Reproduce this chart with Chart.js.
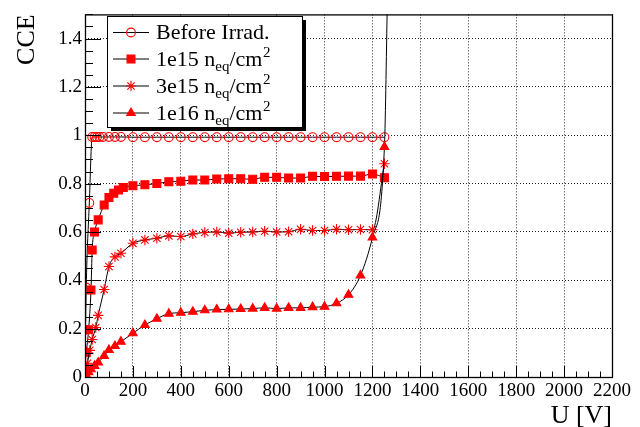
<!DOCTYPE html>
<html><head><meta charset="utf-8">
<script src="https://cdn.jsdelivr.net/npm/chart.js@4.4.1/dist/chart.umd.min.js"></script>
<style>html,body{margin:0;padding:0;background:#fff}#wrap{width:640px;height:427px}</style>
</head><body><div id="wrap"><canvas id="c" width="640" height="427"></canvas></div>
<script>
// ---- data ----
const beforeV   = [2, 5, 18, 30, 40, 50, 60, 75, 100, 125, 150, 200, 250, 300, 350, 400, 450, 500, 550, 600, 650, 700, 750, 800, 850, 900, 950, 1000, 1050, 1100, 1150, 1200, 1250];
const beforeCCE = [0.195, 0.37, 0.72, 0.993, 0.993, 0.993, 0.993, 0.993, 0.993, 0.993, 0.993, 0.992, 0.992, 0.992, 0.992, 0.992, 0.992, 0.992, 0.992, 0.992, 0.992, 0.992, 0.992, 0.992, 0.992, 0.992, 0.992, 0.992, 0.992, 0.992, 0.992, 0.992, 0.992];

const e15V   = [5, 15, 25, 30, 40, 55, 80, 100, 120, 140, 160, 200, 250, 300, 350, 400, 450, 500, 550, 600, 650, 700, 750, 800, 850, 900, 950, 1000, 1050, 1100, 1150, 1200, 1250];
const e15CCE = [0.10, 0.195, 0.36, 0.525, 0.60, 0.65, 0.712, 0.743, 0.76, 0.774, 0.784, 0.791, 0.795, 0.80, 0.808, 0.81, 0.815, 0.815, 0.819, 0.82, 0.82, 0.818, 0.826, 0.826, 0.823, 0.823, 0.83, 0.829, 0.83, 0.831, 0.831, 0.84, 0.824];

const e15x3V   = [5, 10, 20, 30, 45, 55, 80, 100, 125, 150, 200, 250, 300, 350, 400, 450, 500, 550, 600, 650, 700, 750, 800, 850, 900, 950, 1000, 1050, 1100, 1150, 1200, 1250];
const e15x3CCE = [0.035, 0.057, 0.11, 0.155, 0.205, 0.255, 0.362, 0.457, 0.497, 0.512, 0.553, 0.567, 0.574, 0.584, 0.581, 0.592, 0.598, 0.60, 0.595, 0.599, 0.60, 0.603, 0.60, 0.601, 0.611, 0.606, 0.606, 0.611, 0.609, 0.61, 0.609, 0.882];

const e16V   = [5, 15, 25, 40, 55, 80, 100, 125, 150, 200, 250, 300, 350, 400, 450, 500, 550, 600, 650, 700, 750, 800, 850, 900, 950, 1000, 1050, 1100, 1150, 1200, 1250];
const e16CCE = [0.008, 0.02, 0.032, 0.046, 0.06, 0.087, 0.112, 0.128, 0.146, 0.181, 0.215, 0.241, 0.262, 0.266, 0.27, 0.276, 0.279, 0.28, 0.281, 0.283, 0.286, 0.283, 0.286, 0.286, 0.289, 0.291, 0.305, 0.34, 0.42, 0.577, 0.952];
// continuation of the 1e16 curve above the frame (no marker)
const e16TailV   = [1263];
const e16TailCCE = [1.6];

const xTickLabels = ['0', '200', '400', '600', '800', '1000', '1200', '1400', '1600', '1800', '2000', '2200'];
const yTickLabels = ['0', '0.2', '0.4', '0.6', '0.8', '1', '1.2', '1.4'];
const legendNames = ['Before Irrad.', '1e15', '3e15', '1e16'];
const xTitle = 'U [V]';
const yTitle = 'CCE';

// ---- chart ----
const SERIF = '"Liberation Serif","DejaVu Serif","Times New Roman",serif';
Chart.defaults.font.family = SERIF;
Chart.defaults.color = '#000';

function pts(xs, ys) { return xs.map((x, i) => ({ x: x, y: ys[i] })); }

const RED = '#ff0000';
const styles = [
  { pointStyle: 'circle',   radius: 4.4, fill: 'rgba(0,0,0,0)' },
  { pointStyle: 'rect',     radius: 5.6, fill: RED },
  { pointStyle: 'star',     radius: 5.2, fill: RED },
  { pointStyle: 'triangle', radius: 5.0, fill: RED }
];

function mk(label, data, st, order, radiusFn) {
  return {
    label: label, data: data,
    borderColor: '#000', borderWidth: 1,
    pointStyle: st.pointStyle, pointRadius: radiusFn || st.radius,
    pointBorderColor: RED, pointBackgroundColor: st.fill, pointBorderWidth: 1.1,
    cubicInterpolationMode: 'monotone', fill: false, order: order
  };
}

const datasets = [
  mk(legendNames[0], pts(beforeV, beforeCCE), styles[0], 4),
  mk(legendNames[1], pts(e15V, e15CCE), styles[1], 3),
  mk(legendNames[2], pts(e15x3V, e15x3CCE), styles[2], 2),
  mk(legendNames[3], pts(e16V.concat(e16TailV), e16CCE.concat(e16TailCCE)), styles[3], 1,
     (c) => c.dataIndex >= e16V.length ? 0 : styles[3].radius)
];

const rootDecor = {
  id: 'rootDecor',
  afterDatasetsDraw(chart) {
    const { ctx, chartArea: a, scales } = chart;
    const xs = scales.x, ys = scales.y;
    ctx.save();
    ctx.strokeStyle = '#000';
    ctx.lineWidth = 1;
    // inner ticks
    ctx.beginPath();
    const xt = xs.ticks.map(t => t.value);
    for (let i = 0; i < xt.length; i++) {
      const px = Math.round(xs.getPixelForValue(xt[i])) + 0.5;
      ctx.moveTo(px, a.bottom); ctx.lineTo(px, a.bottom - 11);
      if (i < xt.length - 1) {
        const st = (xt[i + 1] - xt[i]) / 4;
        for (let k = 1; k < 4; k++) {
          const mx = Math.round(xs.getPixelForValue(xt[i] + k * st)) + 0.5;
          ctx.moveTo(mx, a.bottom); ctx.lineTo(mx, a.bottom - 5.5);
        }
      }
    }
    const yt = ys.ticks.map(t => t.value);
    const yStep = yt[1] - yt[0];
    for (let i = 0; i < yt.length; i++) {
      const py = Math.round(ys.getPixelForValue(yt[i])) + 0.5;
      ctx.moveTo(a.left, py); ctx.lineTo(a.left + 16, py);
      for (let k = 1; k < 4; k++) {
        const v = yt[i] + k * yStep / 4;
        if (v > ys.max + 1e-9) break;
        const my = Math.round(ys.getPixelForValue(v)) + 0.5;
        ctx.moveTo(a.left, my); ctx.lineTo(a.left + 8, my);
      }
    }
    ctx.stroke();
    // frame
    ctx.lineWidth = 1.3;
    ctx.strokeRect(a.left + 0.5, a.top + 0.5, a.right - a.left, a.bottom - a.top);

    // legend box with shadow
    const L = { x: 107, y: 16, w: 195, h: 111 };
    ctx.fillStyle = '#000';
    ctx.fillRect(L.x + 4, L.y + 4, L.w, L.h);
    ctx.fillStyle = '#fff';
    ctx.fillRect(L.x, L.y, L.w, L.h);
    ctx.lineWidth = 1;
    ctx.strokeRect(L.x + 0.5, L.y + 0.5, L.w, L.h);
    const rows = [32, 58.5, 85.5, 112.5];
    const big = '22px ' + SERIF, small = '15px ' + SERIF;
    for (let i = 0; i < 4; i++) {
      const ry = rows[i];
      ctx.strokeStyle = '#000'; ctx.lineWidth = 1;
      ctx.beginPath(); ctx.moveTo(113, ry + 0.5); ctx.lineTo(149, ry + 0.5); ctx.stroke();
      ctx.strokeStyle = RED; ctx.fillStyle = styles[i].fill; ctx.lineWidth = 1.1;
      Chart.helpers.drawPoint(ctx, { pointStyle: styles[i].pointStyle, radius: styles[i].radius, borderWidth: 1.1, rotation: 0 }, 131, ry + 0.5);
      ctx.fillStyle = '#000';
      ctx.textBaseline = 'alphabetic'; ctx.textAlign = 'left';
      const by = ry + 7;
      let tx = 156;
      ctx.font = big;
      if (i === 0) { ctx.fillText(legendNames[i], tx, by); continue; }
      const p1 = legendNames[i] + ' n';
      ctx.fillText(p1, tx, by); tx += ctx.measureText(p1).width;
      ctx.font = small; ctx.fillText('eq', tx, by + 5); tx += ctx.measureText('eq').width;
      ctx.font = big; ctx.fillText('/cm', tx, by); tx += ctx.measureText('/cm').width;
      ctx.font = small; ctx.fillText('2', tx + 0.5, by - 9);
    }
    ctx.restore();
  }
};

new Chart(document.getElementById('c'), {
  type: 'line',
  data: { datasets: datasets },
  plugins: [rootDecor],
  options: {
    responsive: false, animation: false, devicePixelRatio: 1, events: [],
    layout: { padding: { left: 0, top: 14, right: 28, bottom: 0 } },
    plugins: { legend: { display: false }, tooltip: { enabled: false } },
    scales: {
      x: {
        type: 'linear', min: 0, max: 2200,
        afterFit(s) { s.height = 50; },
        ticks: { stepSize: 200, autoSkip: false, maxRotation: 0, padding: 3, font: { size: 19 },
                 callback: (v, i) => xTickLabels[i] },
        grid: { color: 'rgba(0,0,0,0.85)', lineWidth: 1, drawTicks: false },
        border: { display: false, dash: [1, 2] },
        title: { display: true, text: xTitle, align: 'end', font: { size: 26, lineHeight: 0.8 }, padding: { top: 0, bottom: 0 } }
      },
      y: {
        type: 'linear', min: 0, max: 1.5,
        afterFit(s) { s.width = 85; },
        ticks: { stepSize: 0.2, includeBounds: false, padding: 3, font: { size: 19 },
                 callback: (v, i) => yTickLabels[i] },
        grid: { color: 'rgba(0,0,0,0.85)', lineWidth: 1, drawTicks: false },
        border: { display: false, dash: [1, 2] },
        title: { display: true, text: yTitle, align: 'end', font: { size: 26 }, padding: { top: 12, bottom: 0 } }
      }
    }
  }
});
</script>
</body></html>
